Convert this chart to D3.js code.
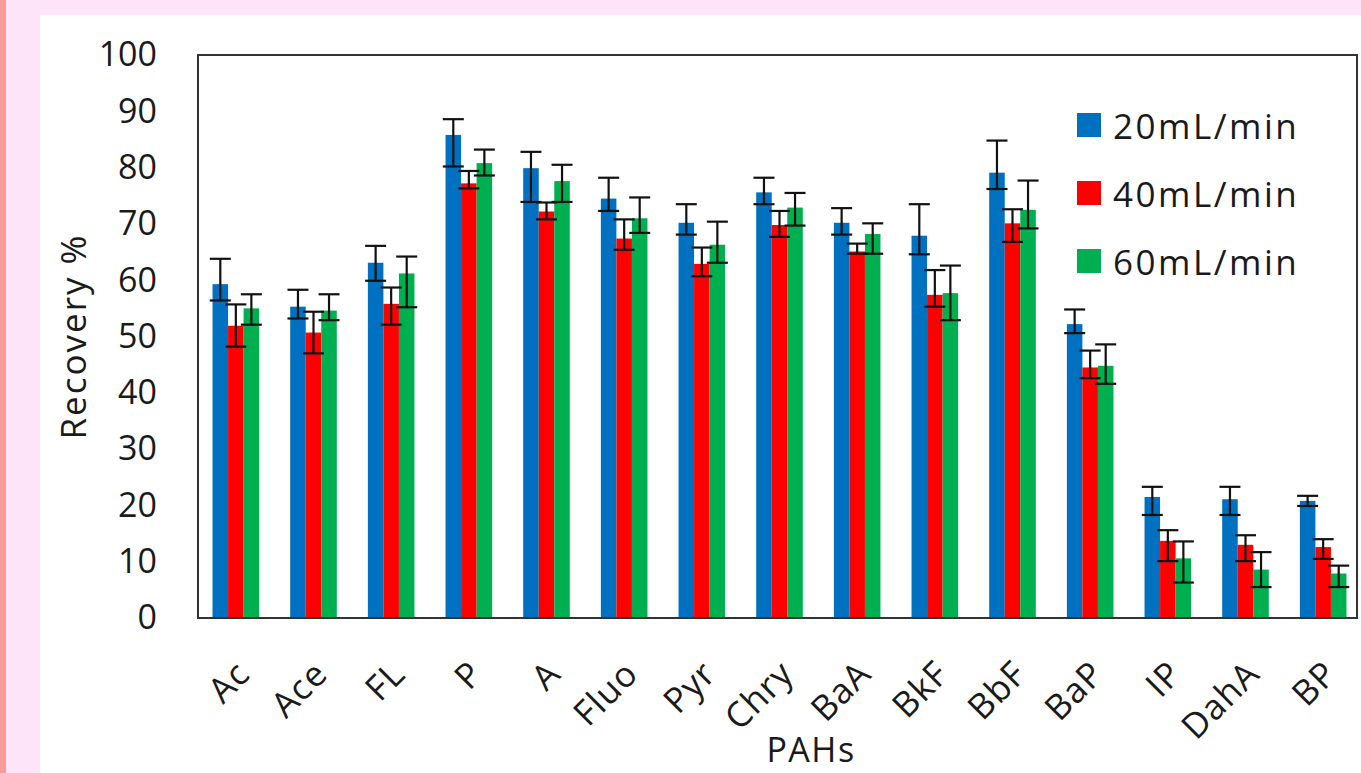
<!DOCTYPE html>
<html>
<head>
<meta charset="utf-8">
<script src="https://cdn.jsdelivr.net/npm/d3@7"></script>
<style>
  html, body { margin: 0; padding: 0; background: #fde4f9; overflow: hidden; }
  svg { display: block; font-family: "Open Sans", sans-serif; }
</style>
</head>
<body>
<div id="chart"></div>
<script>
// PAH recovery (%) for three sampling flow rates
const categories = ['Ac', 'Ace', 'FL', 'P', 'A', 'Fluo', 'Pyr', 'Chry', 'BaA', 'BkF', 'BbF', 'BaP', 'IP', 'DahA', 'BP'];
const seriesNames = ['20mL/min', '40mL/min', '60mL/min'];
const seriesColors = ['#0070c0', '#ff0000', '#00b050'];

const flow20 = [59.3, 55.3, 63.1, 85.8, 79.9, 74.5, 70.2, 75.6, 70.2, 67.9, 79.1, 52.2, 21.5, 21.1, 20.8];
const flow40 = [51.9, 50.7, 55.8, 77.2, 72.2, 67.4, 62.9, 69.8, 65.1, 57.4, 70.1, 44.5, 13.7, 13.0, 12.6];
const flow60 = [55.0, 54.6, 61.2, 80.8, 77.6, 71.0, 66.3, 72.9, 68.2, 57.7, 72.5, 44.8, 10.6, 8.6, 7.9];

// error bars, upper and lower lengths
const err20Up = [4.5, 3.0, 3.0, 2.8, 2.9, 3.7, 3.3, 2.6, 2.6, 5.6, 5.7, 2.6, 1.8, 2.2, 0.9];
const err20Down = [2.9, 2.1, 3.2, 5.6, 6.0, 2.2, 2.1, 2.1, 2.1, 3.3, 2.9, 1.6, 3.2, 2.8, 0.9];
const err40Up = [3.8, 3.7, 2.9, 2.2, 1.6, 3.4, 2.9, 2.5, 1.4, 4.4, 2.5, 3.0, 1.9, 1.7, 1.4];
const err40Down = [3.7, 3.7, 3.7, 0.9, 1.4, 2.0, 2.2, 2.1, 0.4, 2.1, 3.3, 1.9, 3.6, 2.9, 2.1];
const err60Up = [2.5, 2.9, 3.0, 2.4, 2.9, 3.7, 4.1, 2.6, 1.9, 4.9, 5.2, 3.8, 3.0, 3.1, 1.4];
const err60Down = [2.9, 1.7, 6.0, 2.2, 3.7, 2.6, 3.2, 3.2, 3.5, 4.8, 3.3, 3.2, 4.3, 3.1, 2.4];

const yTicks = [0, 10, 20, 30, 40, 50, 60, 70, 80, 90, 100];

const width = 1361, height = 773;
const plot = { left: 198, right: 1357, top: 55, bottom: 618 };

const seriesValues = [flow20, flow40, flow60];
const seriesUp = [err20Up, err40Up, err60Up];
const seriesDown = [err20Down, err40Down, err60Down];

const rows = [];
categories.forEach((cat, i) => {
  seriesNames.forEach((name, s) => {
    rows.push({ cat, s, value: seriesValues[s][i], up: seriesUp[s][i], down: seriesDown[s][i] });
  });
});

const svg = d3.select('#chart').append('svg')
  .attr('width', width)
  .attr('height', height);

// page frame: pink edge + white panel
svg.append('rect').attr('x', 0).attr('y', 0).attr('width', width).attr('height', height).attr('fill', '#fde4f9');
svg.append('rect').attr('x', 0).attr('y', 0).attr('width', 6).attr('height', height).attr('fill', '#f99b9b');
svg.append('rect').attr('x', 40).attr('y', 15).attr('width', width - 40).attr('height', height - 15).attr('fill', '#ffffff');

const x = d3.scaleBand()
  .domain(categories)
  .range([197, 1362])
  .paddingInner(0.4)
  .paddingOuter(0.2);

const xInner = d3.scaleBand()
  .domain(d3.range(seriesNames.length))
  .range([0, x.bandwidth()]);

const y = d3.scaleLinear()
  .domain([0, 100])
  .range([plot.bottom, plot.top]);

// y axis labels
const yAxis = svg.append('g')
  .attr('transform', `translate(${plot.left}, 0)`)
  .call(d3.axisLeft(y).tickValues(yTicks).tickSize(0).tickPadding(41));
yAxis.select('.domain').remove();
yAxis.selectAll('text')
  .attr('font-family', '"Open Sans", sans-serif')
  .attr('font-size', 34)
  .attr('fill', '#1a1a1a');

// bars
svg.append('g').selectAll('rect')
  .data(rows)
  .join('rect')
  .attr('x', d => x(d.cat) + xInner(d.s))
  .attr('y', d => y(d.value))
  .attr('width', xInner.bandwidth())
  .attr('height', d => y(0) - y(d.value))
  .attr('fill', d => seriesColors[d.s]);

// error bars
const capHalf = 10.5;
const eb = svg.append('g')
  .attr('stroke', '#111')
  .attr('stroke-width', 2.2)
  .attr('fill', 'none');
rows.forEach(d => {
  const cx = x(d.cat) + xInner(d.s) + xInner.bandwidth() / 2;
  const yHi = y(d.value + d.up), yLo = y(d.value - d.down);
  eb.append('line').attr('x1', cx).attr('x2', cx).attr('y1', yHi).attr('y2', yLo);
  eb.append('line').attr('x1', cx - capHalf).attr('x2', cx + capHalf).attr('y1', yHi).attr('y2', yHi);
  eb.append('line').attr('x1', cx - capHalf).attr('x2', cx + capHalf).attr('y1', yLo).attr('y2', yLo);
});

// plot border
svg.append('rect')
  .attr('x', plot.left)
  .attr('y', plot.top)
  .attr('width', plot.right - plot.left)
  .attr('height', plot.bottom - plot.top)
  .attr('fill', 'none')
  .attr('stroke', '#333')
  .attr('stroke-width', 2);

// category labels, rotated
svg.append('g').selectAll('text')
  .data(categories)
  .join('text')
  .attr('transform', d => `translate(${x(d) + x.bandwidth() / 2 + 16}, ${plot.bottom + 58}) rotate(-45)`)
  .attr('text-anchor', 'end')
  .attr('font-size', 35)
  .attr('letter-spacing', 1)
  .attr('fill', '#1a1a1a')
  .text(d => d);

// axis titles
svg.append('text')
  .attr('x', 811)
  .attr('y', 762)
  .attr('text-anchor', 'middle')
  .attr('font-size', 34)
  .attr('letter-spacing', 1.5)
  .attr('fill', '#1a1a1a')
  .text('PAHs');

svg.append('text')
  .attr('transform', `translate(86, ${(plot.top + plot.bottom) / 2}) rotate(-90)`)
  .attr('text-anchor', 'middle')
  .attr('font-size', 35)
  .attr('letter-spacing', 2)
  .attr('fill', '#1a1a1a')
  .text('Recovery %');

// legend
const legend = svg.append('g').attr('transform', 'translate(1077, 113)');
seriesNames.forEach((name, s) => {
  const g = legend.append('g').attr('transform', `translate(0, ${s * 68})`);
  g.append('rect').attr('width', 24).attr('height', 24).attr('fill', seriesColors[s]);
  g.append('text')
    .attr('x', 36)
    .attr('y', 26)
    .attr('font-size', 35)
    .attr('letter-spacing', 2.5)
    .attr('fill', '#1a1a1a')
    .text(name);
});
</script>
</body>
</html>
